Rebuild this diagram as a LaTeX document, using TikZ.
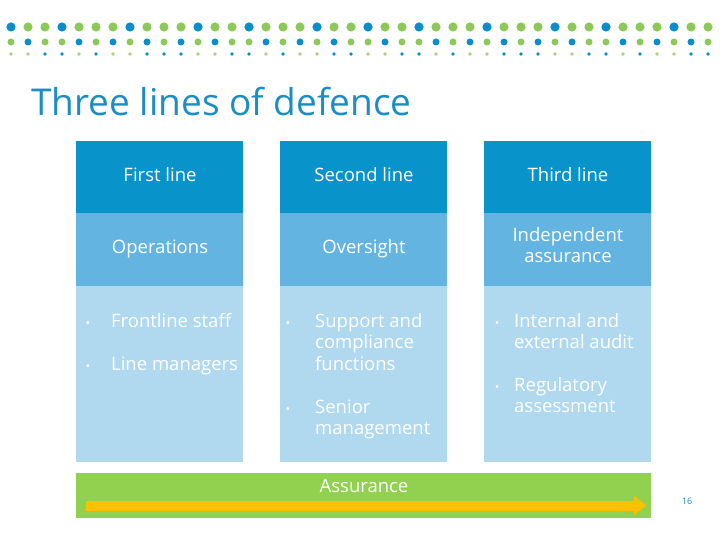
\documentclass[tikz,border=0pt]{standalone}
\usepackage{fontspec}
\setmainfont{Open Sans}
\usetikzlibrary{arrows.meta}
\definecolor{dblue}{HTML}{0993CB}
\definecolor{mblue}{HTML}{64B4E1}
\definecolor{lblue}{HTML}{B0D8EE}
\definecolor{tblue}{HTML}{1A8DC3}
\definecolor{dotb}{HTML}{0A8ECB}
\definecolor{dotg}{HTML}{8DC85A}
\definecolor{barg}{HTML}{92D050}
\definecolor{arr}{HTML}{FFC000}
\newcommand{\lefttop}[1]{\begin{tabular}[t]{@{}l@{}}#1\end{tabular}}
\newcommand{\centtop}[1]{\begin{tabular}[t]{@{}c@{}}#1\end{tabular}}
\tikzset{
  cell/.style={draw=none, minimum width=167pt, inner sep=0pt, anchor=north west},
  hdr/.style={cell, fill=dblue, minimum height=72pt},
  sub/.style={cell, fill=mblue, minimum height=73pt},
  body/.style={cell, fill=lblue, minimum height=176pt},
  wtxt/.style={text=white, font=\fontsize{18.5}{21.5}\selectfont, inner sep=0pt},
  btxt/.style={wtxt, anchor=base west},
  bul/.style={wtxt, anchor=base, font=\fontsize{12}{21.5}\selectfont},
}
\begin{document}
\begin{tikzpicture}[x=1pt,y=-1pt]
\useasboundingbox (0,0) rectangle (720,540);
% dots
\foreach \i in {0,...,41}{
  \pgfmathtruncatemacro{\k}{mod(\i,21)}
  \pgfmathtruncatemacro{\ra}{{1,0,0,1,0,0,0,1,0,0,0,1,0,0,1,0,0,0,1,0,0}[\k]}
  \pgfmathtruncatemacro{\rb}{{0,1,0,0,1,0,1,0,1,0,1,0,1,0,0,1,0,1,0,1,0}[\k]}
  \pgfmathtruncatemacro{\rc}{{0,0,1,1,0,1,0,0,1,1,1,0,0,1,1,0,1,0,0,1,1}[\k]}
  \pgfmathsetmacro{\xx}{11+17*\i}
  \ifnum\ra=1 \fill[dotb] (\xx,27) circle (4.6pt); \else \fill[dotg] (\xx,27) circle (4.6pt); \fi
  \ifnum\rb=1 \fill[dotb] (\xx,42) circle (3.5pt); \else \fill[dotg] (\xx,42) circle (3.5pt); \fi
  \ifnum\rc=1 \fill[dotb] (\xx,54) circle (1.9pt); \else \fill[dotg!80!white] (\xx,54) circle (1.9pt); \fi
}
% title
\node[anchor=base west, inner sep=0pt, text=tblue, font=\fontsize{37}{42}\selectfont] (title) at (31,116) {Three lines of defence};
% columns
\node[hdr] (h1) at (76,141) {};
\node[hdr] (h2) at (280,141) {};
\node[hdr] (h3) at (484,141) {};
\node[sub] (s1) at (76,213) {};
\node[sub] (s2) at (280,213) {};
\node[sub] (s3) at (484,213) {};
\node[body] (b1) at (76,286) {};
\node[body] (b2) at (280,286) {};
\node[body] (b3) at (484,286) {};
% header texts
\node[wtxt, anchor=base] (t1) at (160,182) {First line};
\node[wtxt, anchor=base] (t2) at (364,182) {Second line};
\node[wtxt, anchor=base] (t3) at (568,182) {Third line};
\node[wtxt, anchor=base] (u1) at (160,253) {Operations};
\node[wtxt, anchor=base] (u2) at (364,253) {Oversight};
\node[wtxt, anchor=base] (u3) at (568,241) {\centtop{Independent\\assurance}};
% bullets col1
\node[bul] (p11) at (88,327) {•};
\node[btxt] (q11) at (111,327) {Frontline staff};
\node[bul] (p12) at (88,370) {•};
\node[btxt] (q12) at (111,370) {Line managers};
% col2
\node[bul] (p21) at (288,327) {•};
\node[btxt] (q21) at (315,327) {\lefttop{Support and\\compliance\\functions}};
\node[bul] (p22) at (288,413) {•};
\node[btxt] (q22) at (315,413) {\lefttop{Senior\\management}};
% col3
\node[bul] (p31) at (497,327) {•};
\node[btxt] (q31) at (514,327) {\lefttop{Internal and\\external audit}};
\node[bul] (p32) at (497,391) {•};
\node[btxt] (q32) at (514,391) {\lefttop{Regulatory\\assessment}};
% assurance bar
\node[draw=none, fill=barg, minimum width=575pt, minimum height=45pt, inner sep=0pt, anchor=north west] (bar) at (76,473) {};
\node[wtxt, anchor=base] (ass) at (364,492) {Assurance};
\coordinate (a0) at (86,505.5);
\coordinate (a1) at (646,505.5);
\draw[arr, line width=10pt, -{Triangle[length=12pt, width=19pt]}] (a0) -- (a1);
% page number
\node[text=tblue, font=\fontsize{9}{10}\selectfont, inner sep=0pt] (pg) at (687,501) {16};
\end{tikzpicture}
\end{document}
